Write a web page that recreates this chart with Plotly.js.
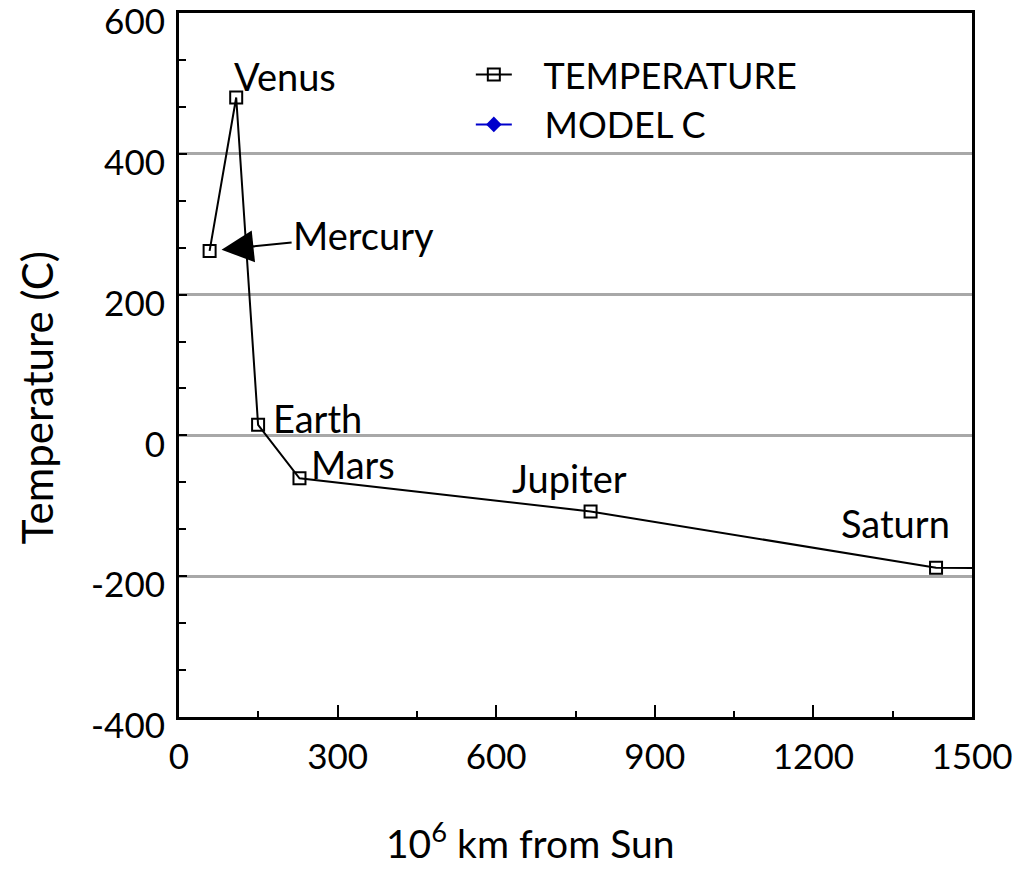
<!DOCTYPE html>
<html>
<head>
<meta charset="utf-8">
<script src="https://cdn.plot.ly/plotly-3.0.1.min.js"></script>
<style>html,body{margin:0;padding:0;background:#fff;}#chart{width:1027px;height:869px;}</style>
</head>
<body>
<div id="chart"></div>
<script>
// Data
const planets = ["Mercury", "Venus", "Earth", "Mars", "Jupiter", "Saturn", "Uranus"];
const distance = [57.9, 108.2, 149.6, 227.9, 778.5, 1432, 2871];   // 10^6 km from Sun
const temperature = [262, 480, 15, -61, -108, -188, -195];        // degrees C
const modelC = [null];                                            // MODEL C (no visible points)
const labelNames = ["Venus", "Earth", "Mars", "Jupiter", "Saturn"];
const yTickVals = [-400, -200, 0, 200, 400, 600];
const yTickText = ["-400", "-200", "0", "200", "400", "600"];
const xTickVals = [0, 300, 600, 900, 1200, 1500];
const xTickText = ["0", "300", "600", "900", "1200", "1500"];

const FONT = "Lato, 'Open Sans', sans-serif";
const GAP = "\u00a0\u00a0\u00a0";

const traces = [
  {
    x: distance, y: temperature, name: GAP + "TEMPERATURE", type: "scatter", mode: "lines+markers",
    line: {color: "#000", width: 2},
    marker: {symbol: "square-open", size: 12, color: "#000", line: {color: "#000", width: 2}}
  },
  {
    x: modelC, y: modelC, name: GAP + "MODEL C", type: "scatter", mode: "lines+markers",
    line: {color: "#0000cc", width: 2},
    marker: {symbol: "diamond", size: 12, color: "#0000cc"}
  }
];

const LBL = 38;
const offsets = {Venus: [49, 21], Earth: [59, 7], Mars: [54, 14], Jupiter: [-21, 33], Saturn: [-41, 45]};
const annotations = labelNames.map(n => {
  const i = planets.indexOf(n);
  return {x: distance[i], y: temperature[i], xref: "x", yref: "y", text: n, showarrow: false,
    xshift: offsets[n][0], yshift: offsets[n][1], font: {family: FONT, size: LBL, color: "#000"}};
});
const mi = planets.indexOf("Mercury");
annotations.push({x: distance[mi], y: temperature[mi], xref: "x", yref: "y", text: "Mercury",
  showarrow: true, ax: 154, ay: -16, arrowhead: 2, arrowsize: 3.2, arrowwidth: 2, arrowcolor: "#000",
  standoff: 12, font: {family: FONT, size: LBL, color: "#000"}});
annotations.push({xref: "paper", yref: "paper", x: -0.179, y: 0.453, xanchor: "center", yanchor: "middle",
  text: "Temperature (C)", textangle: -90,
  showarrow: false, font: {family: FONT, size: 42, color: "#000"}});
annotations.push({xref: "paper", yref: "paper", x: 0.4426, y: -0.176, xanchor: "center", yanchor: "middle",
  text: "10<sup>6</sup> km from Sun",
  showarrow: false, font: {family: FONT, size: 39, color: "#000"}});

const layout = {
  width: 1027, height: 869,
  margin: {l: 179, r: 55, t: 13, b: 152},
  paper_bgcolor: "#fff", plot_bgcolor: "#fff",
  font: {family: FONT, size: 35, color: "#000"},
  showlegend: true,
  legend: {x: 0.368, y: 0.955, xanchor: "left", yanchor: "top", bgcolor: "rgba(0,0,0,0)",
    itemwidth: 36, font: {family: FONT, size: 36, color: "#000"}, tracegroupgap: 0},
  xaxis: {
    range: [0, 1500], tickmode: "array", tickvals: xTickVals, ticktext: xTickText,
    showline: true, mirror: true, linecolor: "#000", linewidth: 3,
    ticks: "inside", ticklen: 12, tickwidth: 2, tickcolor: "#000",
    showgrid: false, zeroline: false, ticklabelstandoff: 7, ticklabeloverflow: "allow",
    minor: {dtick: 150, ticks: "inside", ticklen: 6, tickwidth: 2, tickcolor: "#000", showgrid: false},
    tickfont: {family: FONT, size: 35, color: "#000"}
  },
  yaxis: {
    range: [-400, 600], tickmode: "array", tickvals: yTickVals, ticktext: yTickText,
    showline: true, mirror: true, linecolor: "#000", linewidth: 3,
    ticks: "inside", ticklen: 8, tickwidth: 2, tickcolor: "#000",
    showgrid: true, gridcolor: "#a8a8a8", gridwidth: 3, zeroline: false,
    ticklabelshift: 9, ticklabelstandoff: 4, ticklabeloverflow: "allow",
    minor: {tick0: 0, dtick: 200 / 3, ticks: "inside", ticklen: 7, tickwidth: 2, tickcolor: "#000", showgrid: false},
    tickfont: {family: FONT, size: 35, color: "#000"}
  },
  annotations: annotations
};

Plotly.newPlot("chart", traces, layout, {displayModeBar: false, staticPlot: true});
</script>
</body>
</html>
